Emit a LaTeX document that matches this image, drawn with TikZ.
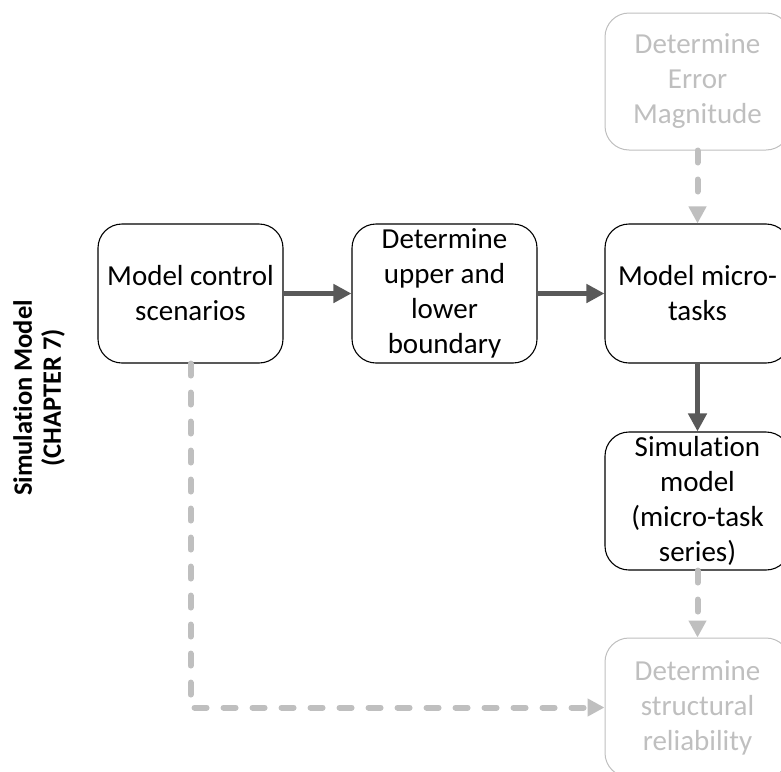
\documentclass[tikz,border=0pt]{standalone}
\usepackage{fontspec}
\setmainfont{Carlito}[Ligatures=NoCommon]
\usetikzlibrary{arrows.meta}
\definecolor{flowdark}{HTML}{595959}
\definecolor{flowlight}{HTML}{BFBFBF}
\begin{document}
\begin{tikzpicture}[x=1pt,y=-1pt,
  box/.style={draw=black,line width=1.1pt,rounded corners=24pt,
    minimum width=185pt,minimum height=139pt,inner sep=0pt,align=center,
    font=\fontsize{29}{35}\selectfont},
  fadedbox/.style={box,draw=flowlight,line width=1pt,text=flowlight},
  solidflow/.style={draw=flowdark,line width=4.5pt,
    -{Triangle[length=18pt,width=18pt]}},
  dashflow/.style={draw=flowlight,line width=6pt,line cap=round,
    dash pattern=on 12pt off 17pt,
    -{Triangle[length=17pt,width=17pt,line cap=butt]}},
]
\useasboundingbox (0,0) rectangle (781,771);

% left side label
\node[rotate=90,align=center,font=\bfseries\fontsize{26.5}{29}\selectfont]
  (lbl) at (39,398) {Simulation Model\\(CHAPTER 7)};

% process boxes
\node[box] (mcs) at (190.5,293.5) {Model control\\scenarios};
\node[box] (dul) at (444.5,293.5) {Determine\\upper and\\lower\\boundary};
\node[box] (mmt) at (697.5,293.5) {Model micro-\\tasks};
\node[fadedbox,minimum height=137pt] (dem) at (697.5,81.5) {Determine\\Error\\Magnitude};
\node[box,minimum height=138pt] (sim) at (697.5,501) {Simulation\\model\\(micro-task\\series)};
\node[fadedbox] (dsr) at (697.5,707.5) {Determine\\structural\\reliability};

% main flow
\draw[solidflow] (mcs.east) -- (dul.west);
\draw[solidflow] (dul.east) -- (mmt.west);
\draw[solidflow] (mmt.south) -- (sim.north);

% auxiliary flows
\draw[dashflow] (dem.south) -- (mmt.north);
\draw[dashflow] (sim.south) -- (dsr.north);
\coordinate (bend) at (mcs.south |- dsr.west);
\draw[dashflow] (mcs.south) -- (bend) -- (dsr.west);
\end{tikzpicture}
\end{document}
